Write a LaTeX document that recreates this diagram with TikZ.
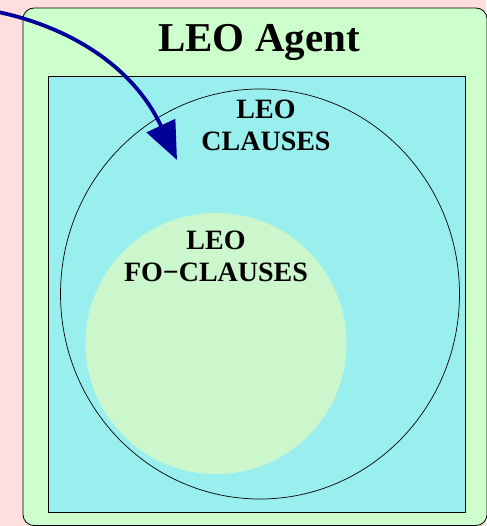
\documentclass[tikz,border=0pt]{standalone}
\usepackage{fontspec}
\setmainfont{Liberation Serif}
\usepackage{xcolor}
\definecolor{pagepink}{RGB}{255, 222, 222}
\definecolor{agentgreen}{RGB}{204, 255, 204}
\definecolor{clausecyan}{RGB}{153, 238, 238}
\definecolor{fogreen}{RGB}{204, 247, 204}
\definecolor{arrowblue}{RGB}{0, 0, 153}
\usetikzlibrary{arrows.meta, positioning, shapes.geometric}

\tikzset{
    setlabel/.style={font=\bfseries\fontsize{28}{32}\selectfont, align=center, inner sep=0pt, anchor=north},
}

\begin{document}
\begin{tikzpicture}[x=1pt, y=-1pt, >=Stealth]
    \useasboundingbox (0,0) rectangle (486,526);
    \fill[pagepink] (0,0) rectangle (486,526);
    % agent box
    \filldraw[fill=agentgreen, draw=black, line width=0.8pt, rounded corners=11pt] (23,8) rectangle (487,525.5);
    \node[font=\bfseries\fontsize{41}{45}\selectfont, anchor=base, inner sep=0pt] (agent) at (259,52) {LEO Agent};
    % clause sets
    \filldraw[fill=clausecyan, draw=black, line width=0.7pt] (48,76) rectangle (465,512);
    \node[ellipse, draw=black, line width=0.7pt, minimum width=399pt, minimum height=410pt, inner sep=0pt] (clauses) at (260,294) {};
    \node[circle, fill=fogreen, minimum size=261pt, inner sep=0pt] (foclauses) at (216,343.5) {};
    \node[setlabel] (clauseslabel) at (266,100) {LEO\\CLAUSES};
    \node[setlabel] (folabel) at (216,231) {LEO\\FO−CLAUSES};
    % incoming arrow
    \coordinate (source) at (-2,12);
    \coordinate (target) at (177,160);
    \draw[->, arrowblue, line width=3.8pt, >={Triangle[length=38pt, width=31pt]}]
        (source) .. controls (60,25) and (130,60) .. (target);
\end{tikzpicture}
\end{document}
